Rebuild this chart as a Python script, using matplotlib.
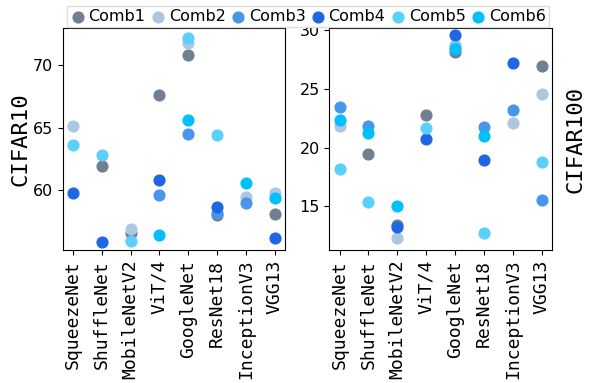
import numpy as np
import matplotlib
matplotlib.use("Agg")
import matplotlib.pyplot as plt

models = ["SqueezeNet", "ShuffleNet", "MobileNetV2", "ViT/4",
          "GoogleNet", "ResNet18", "InceptionV3", "VGG13"]
combs = ["Comb1", "Comb2", "Comb3", "Comb4", "Comb5", "Comb6"]
colors = ["#708090", "#adc6e2", "#4896ec", "#1f66e5", "#5ad0fa", "#00bfff"]

nan = np.nan
# CIFAR10 values per combination (one value per model)
c10_comb1 = [nan, 61.94, 56.5, 67.6, 70.8, 58.0, nan, 58.09]
c10_comb2 = [65.14, nan, 56.85, nan, 71.83, nan, 59.41, 59.7]
c10_comb3 = [nan, nan, nan, 59.54, 64.5, 58.12, 58.9, nan]
c10_comb4 = [59.7, 55.8, nan, 60.75, nan, 58.63, nan, 56.1]
c10_comb5 = [63.6, 62.77, 55.9, nan, 72.18, 64.43, nan, nan]
c10_comb6 = [nan, nan, nan, 56.4, 65.62, nan, 60.56, 59.3]

# CIFAR100 values per combination
c100_comb1 = [nan, 19.43, 13.4, 22.77, 28.15, nan, nan, 26.95]
c100_comb2 = [21.85, nan, 12.3, nan, 28.78, nan, 22.08, 24.53]
c100_comb3 = [23.45, 21.8, nan, nan, nan, 21.74, 23.16, 15.5]
c100_comb4 = [nan, nan, 13.25, 20.72, 29.6, 18.92, 27.24, nan]
c100_comb5 = [18.2, 15.36, nan, 21.63, 28.6, 12.68, nan, 18.75]
c100_comb6 = [22.34, 21.28, 14.99, nan, 28.43, 21.0, nan, nan]

c10 = [c10_comb1, c10_comb2, c10_comb3, c10_comb4, c10_comb5, c10_comb6]
c100 = [c100_comb1, c100_comb2, c100_comb3, c100_comb4, c100_comb5, c100_comb6]

fig, (ax1, ax2) = plt.subplots(1, 2, figsize=(5.92, 3.83), dpi=100)
fig.subplots_adjust(left=0.106, right=0.932, top=0.927, bottom=0.347, wspace=0.2)

x = np.arange(len(models))
for i in range(len(combs)):
    ax1.scatter(x, c10[i], s=60, color=colors[i], label=combs[i], zorder=3)
    ax2.scatter(x, c100[i], s=60, color=colors[i], zorder=3)

ax1.set_ylim(55.15, 73.0)
ax1.set_yticks([60, 65, 70])
ax2.set_ylim(11.25, 30.2)
ax2.set_yticks([15, 20, 25, 30])

for ax in (ax1, ax2):
    ax.set_xticks(x)
    ax.set_xticklabels(models, rotation=90, family="DejaVu Sans Mono", fontsize=13)
    ax.tick_params(axis="y", labelsize=11.5)

ax1.set_ylabel("CIFAR10", family="DejaVu Sans Mono", fontsize=16, labelpad=2)
ax2.set_ylabel("CIFAR100", family="DejaVu Sans Mono", fontsize=16, labelpad=10)
ax2.yaxis.set_label_position("right")

fig.legend(loc="upper center", bbox_to_anchor=(0.52, 1.005), ncol=6,
           fontsize=11.5, handletextpad=0.15, columnspacing=0.3,
           borderpad=0.2, handlelength=1.0, markerscale=1.0, fancybox=False,
           edgecolor="#dddddd", framealpha=1.0)

fig.savefig("out.png", dpi=100)
